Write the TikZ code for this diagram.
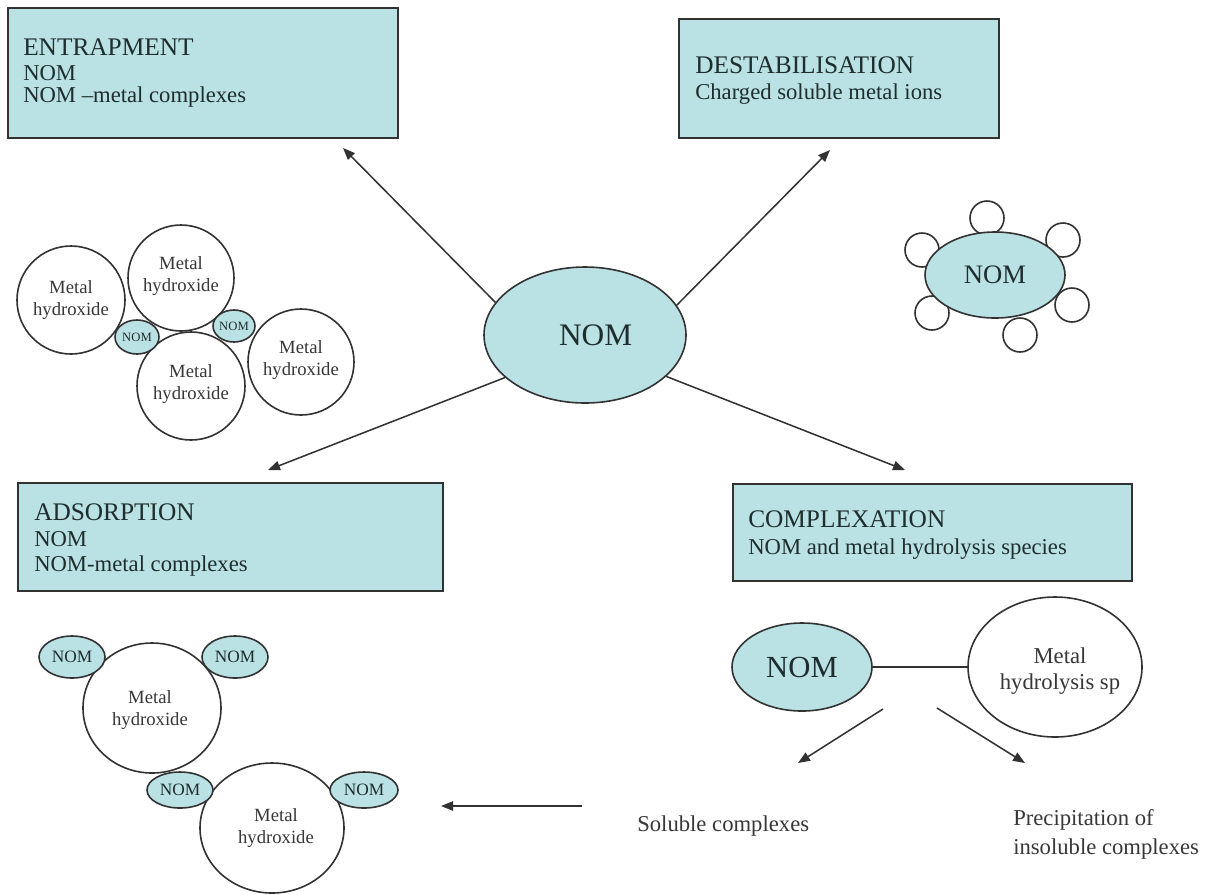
\documentclass[tikz,border=0pt]{standalone}
\usepackage{fontspec}
\setmainfont{Liberation Serif}
\usetikzlibrary{arrows.meta,shapes.geometric}
\definecolor{nomfill}{RGB}{186,225,228}
\definecolor{edge}{RGB}{50,50,50}
\definecolor{ink}{RGB}{30,45,45}
\definecolor{gink}{RGB}{55,55,55}
\begin{document}
\begin{tikzpicture}[x=0.75pt,y=-0.75pt,
  box/.style={draw=edge,line width=1.4pt,fill=nomfill,rectangle,inner sep=0pt,anchor=north west},
  ttl/.style={anchor=base west,inner sep=0pt,text=ink,font=\fontsize{19}{19}\selectfont},
  sub/.style={anchor=base west,inner sep=0pt,text=ink,font=\fontsize{17}{17}\selectfont},
  oval/.style={ellipse,draw=edge,line width=1.2pt,fill=nomfill,inner sep=0pt,text=ink},
  ball/.style={circle,draw=edge,line width=1.2pt,fill=white,inner sep=0pt},
  wov/.style={ellipse,draw=edge,line width=1.2pt,fill=white,inner sep=0pt},
  lbl/.style={text=gink,align=center,font=\fontsize{14}{16}\selectfont},
  plain/.style={text=gink,inner sep=0pt,font=\fontsize{17}{21.75}\selectfont},
  arr/.style={draw=edge,line width=1.15pt,-{Triangle[length=9pt,width=7pt]}},
  link/.style={draw=edge,line width=1.15pt},
]
\useasboundingbox (0,0) rectangle (1212,894);

% ---------- boxes ----------
\node[box,minimum width=292.5pt,minimum height=97.5pt] (entbox) at (7,7) {};
\node[ttl] (entt) at (23,55) {ENTRAPMENT};
\node[sub] (ent1) at (23,80) {NOM};
\node[sub] (ent2) at (23,102) {NOM –metal complexes};

\node[box,minimum width=240pt,minimum height=89.25pt] (desbox) at (678,18) {};
\node[ttl] (dest) at (695,73) {DESTABILISATION};
\node[sub] (des1) at (695,99) {Charged soluble metal ions};

\node[box,minimum width=318.75pt,minimum height=81pt] (adsbox) at (17,482) {};
\node[ttl] (adst) at (34,520) {ADSORPTION};
\node[sub] (ads1) at (34,546) {NOM};
\node[sub] (ads2) at (34,571) {NOM-metal complexes};

\node[box,minimum width=299.25pt,minimum height=72.75pt] (cpxbox) at (732,483) {};
\node[ttl] (cpxt) at (748,527) {COMPLEXATION};
\node[sub] (cpx1) at (748,554) {NOM and metal hydrolysis species};

% ---------- central NOM ----------
\node[oval,minimum width=151.5pt,minimum height=102pt,font=\fontsize{23.5}{23.5}\selectfont] (nom) at (585,335) {\hspace*{16pt}NOM};

\coordinate (tipE) at (343,148);
\coordinate (tipD) at (830,150);
\coordinate (tipA) at (268,470);
\coordinate (tipC) at (905,470);
\draw[arr] (nom.160) -- (tipE);
\draw[arr] (nom.18) -- (tipD);
\draw[arr] (nom.208) -- (tipA);
\draw[arr] (nom.333) -- (tipC);

% ---------- entrapment cluster ----------
\node[ball,minimum size=81pt] (c1) at (71,300) {};
\node[ball,minimum size=79.5pt] (c2) at (181,278) {};
\node[ball,minimum size=81pt] (c3) at (191,386) {};
\node[ball,minimum size=79.5pt] (c4) at (301,362) {};
\node[lbl] (c1t) at (71,300) {Metal\\hydroxide};
\node[lbl] (c2t) at (181,276) {Metal\\hydroxide};
\node[lbl] (c3t) at (191,384) {Metal\\hydroxide};
\node[lbl] (c4t) at (301,360) {Metal\\hydroxide};
\node[oval,minimum width=33pt,minimum height=25.5pt,font=\fontsize{9.5}{9.5}\selectfont] (n1) at (137,337) {NOM};
\node[oval,minimum width=31.5pt,minimum height=24pt,font=\fontsize{9.5}{9.5}\selectfont] (n2) at (234,326) {NOM};

% ---------- destabilisation cluster ----------
\foreach \nm/\px/\py in {d1/987/218, d2/922/250, d3/1063/240, d4/932/313, d5/1072/305, d6/1020/335}
  \node[ball,minimum size=25.5pt] (\nm) at (\px,\py) {};
\node[oval,minimum width=105pt,minimum height=64.5pt,font=\fontsize{20}{20}\selectfont] (dnom) at (995,275) {NOM};

% ---------- adsorption cluster ----------
\node[wov,minimum width=103.5pt,minimum height=97.5pt] (ma) at (152,708) {};
\node[wov,minimum width=108pt,minimum height=97.5pt] (mb) at (272,828) {};
\node[lbl] (mat) at (150,710) {Metal\\hydroxide};
\node[lbl] (mbt) at (276,828) {Metal\\hydroxide};
\node[oval,minimum width=49.5pt,minimum height=31.5pt,font=\fontsize{13}{13}\selectfont] (a1) at (72,657) {NOM};
\node[oval,minimum width=49.5pt,minimum height=31.5pt,font=\fontsize{13}{13}\selectfont] (a2) at (235,657) {NOM};
\node[oval,minimum width=49.5pt,minimum height=27pt,font=\fontsize{13}{13}\selectfont] (b1) at (180,790) {NOM};
\node[oval,minimum width=51pt,minimum height=27pt,font=\fontsize{13}{13}\selectfont] (b2) at (364,790) {NOM};

% ---------- complexation cluster ----------
\node[oval,minimum width=105pt,minimum height=66pt,font=\fontsize{23}{23}\selectfont] (cnom) at (802,667) {NOM};
\node[wov,minimum width=130.5pt,minimum height=105pt] (cmet) at (1055,667) {};
\node[text=gink,align=center,font=\fontsize{17}{20}\selectfont] (cmett) at (1060,671) {Metal\\hydrolysis sp};
\draw[link] (cnom.east) -- (cmet.west);

\coordinate (ca1) at (883,709);
\coordinate (ca2) at (798,763);
\coordinate (cb1) at (937,708);
\coordinate (cb2) at (1025,763);
\draw[arr] (ca1) -- (ca2);
\draw[arr] (cb1) -- (cb2);

\node[plain,anchor=west] (sol) at (637,826) {Soluble complexes};
\node[plain,anchor=west,align=left] (prec) at (1013,834) {Precipitation of\\insoluble complexes};

\coordinate (s1) at (582,806);
\coordinate (s2) at (441,806);
\draw[arr] (s1) -- (s2);
\end{tikzpicture}
\end{document}
